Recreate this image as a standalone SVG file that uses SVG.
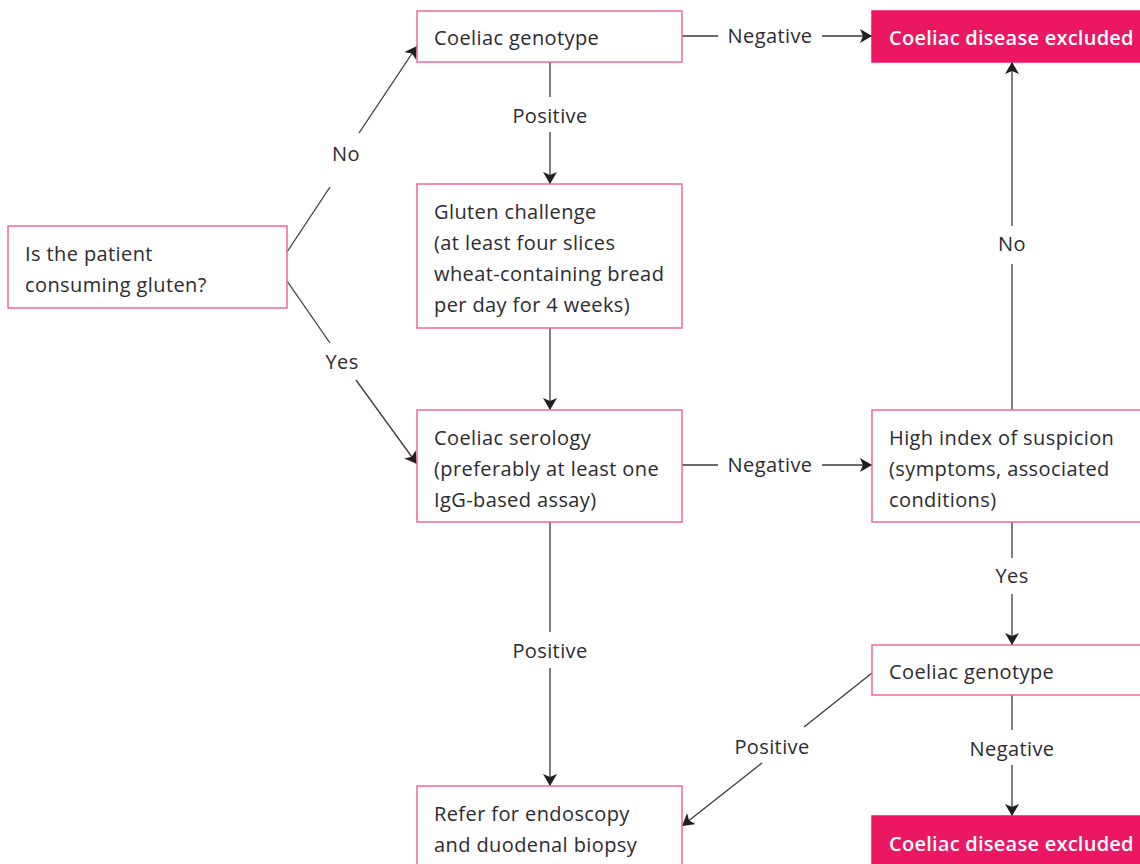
<svg xmlns="http://www.w3.org/2000/svg" width="1140" height="864" viewBox="0 0 1140 864">
<defs>
<marker id="ah" viewBox="0 0 12 14" refX="12" refY="7" markerWidth="12" markerHeight="14" markerUnits="userSpaceOnUse" orient="auto">
<path d="M0,0 L12,7 L0,14 L3,7 Z" fill="#231f20"/>
</marker>
<style>
.box{fill:#fff;stroke:#ee6a95;stroke-width:1.5}
.ex{fill:#ec1763;stroke:#ec1763;stroke-width:1.5}
.t{font-family:"Open Sans","Noto Sans",sans-serif;font-size:20px;letter-spacing:0.4px;fill:#2b2b30}
.w{font-family:"Open Sans","Noto Sans",sans-serif;font-size:20px;letter-spacing:0.25px;fill:#fff;font-weight:600}
.l{font-family:"Open Sans","Noto Sans",sans-serif;font-size:20px;letter-spacing:0.4px;fill:#2b2b30;text-anchor:middle}
.c{fill:none;stroke:#3a3a3a;stroke-width:1.3}
.a{marker-end:url(#ah)}
</style>
</defs>
<rect width="1140" height="864" fill="#fff"/>
<g id="connectors">
<path class="c" d="M287,252 L330,187"/>
<path class="c a" d="M359,133 L417,46"/>
<path class="c" d="M287,281 L330,343"/>
<path class="c a" d="M356,380 L417,464"/>
<path class="c" d="M682,36 L718,36"/>
<path class="c a" d="M822,36 L872,36"/>
<path class="c" d="M550,62 L550,97"/>
<path class="c a" d="M550,132 L550,184"/>
<path class="c a" d="M550,328 L550,410"/>
<path class="c" d="M682,465 L718,465"/>
<path class="c a" d="M822,465 L872,465"/>
<path class="c" d="M550,522 L550,632"/>
<path class="c a" d="M550,668 L550,786"/>
<path class="c" d="M1012,410 L1012,264"/>
<path class="c a" d="M1012,226 L1012,62"/>
<path class="c" d="M1012,522 L1012,558"/>
<path class="c a" d="M1012,594 L1012,645"/>
<path class="c" d="M1012,695 L1012,730"/>
<path class="c a" d="M1012,765 L1012,816"/>
<path class="c" d="M872,673 L804,727"/>
<path class="c a" d="M762,763 L682,826"/>
<text class="l" x="346" y="161">No</text>
<text class="l" x="342" y="369">Yes</text>
<text class="l" x="770" y="43">Negative</text>
<text class="l" x="550" y="123">Positive</text>
<text class="l" x="770" y="472">Negative</text>
<text class="l" x="550" y="658">Positive</text>
<text class="l" x="1012" y="251">No</text>
<text class="l" x="1012" y="583">Yes</text>
<text class="l" x="1012" y="756">Negative</text>
<text class="l" x="772" y="754">Positive</text>
</g>
<g id="patient">
<rect class="box" x="8" y="226" width="279" height="82"/>
<text class="t" x="25" y="261">Is the patient</text>
<text class="t" x="25" y="292">consuming gluten?</text>
</g>
<g id="genotype1">
<rect class="box" x="417" y="11" width="265" height="51"/>
<text class="t" x="434" y="45">Coeliac genotype</text>
</g>
<g id="excluded1">
<rect class="ex" x="872" y="11" width="270" height="51"/>
<text class="w" x="889" y="45">Coeliac disease excluded</text>
</g>
<g id="gluten">
<rect class="box" x="417" y="184" width="265" height="144"/>
<text class="t" x="434" y="219">Gluten challenge</text>
<text class="t" x="434" y="250">(at least four slices</text>
<text class="t" x="434" y="281">wheat-containing bread</text>
<text class="t" x="434" y="312">per day for 4 weeks)</text>
</g>
<g id="serology">
<rect class="box" x="417" y="410" width="265" height="112"/>
<text class="t" x="434" y="445">Coeliac serology</text>
<text class="t" x="434" y="476">(preferably at least one</text>
<text class="t" x="434" y="507">IgG-based assay)</text>
</g>
<g id="suspicion">
<rect class="box" x="872" y="410" width="270" height="112"/>
<text class="t" x="889" y="445">High index of suspicion</text>
<text class="t" x="889" y="476">(symptoms, associated</text>
<text class="t" x="889" y="507">conditions)</text>
</g>
<g id="genotype2">
<rect class="box" x="872" y="645" width="270" height="50"/>
<text class="t" x="889" y="679">Coeliac genotype</text>
</g>
<g id="refer">
<rect class="box" x="417" y="786" width="265" height="82"/>
<text class="t" x="434" y="821">Refer for endoscopy</text>
<text class="t" x="434" y="852">and duodenal biopsy</text>
</g>
<g id="excluded2">
<rect class="ex" x="872" y="816" width="270" height="52"/>
<text class="w" x="889" y="851">Coeliac disease excluded</text>
</g>
</svg>
